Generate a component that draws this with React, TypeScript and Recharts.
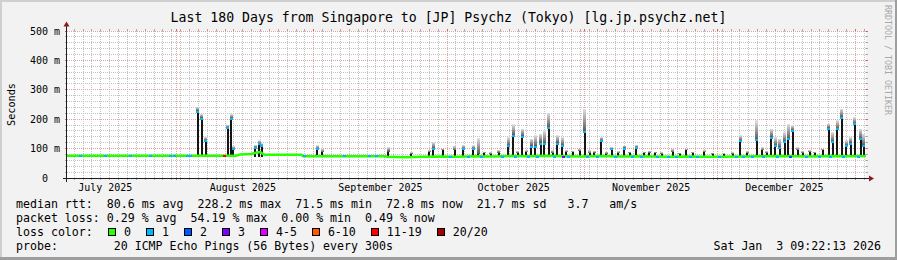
import React from 'react';
import { ComposedChart, Bar, Line, Scatter, XAxis, YAxis, ReferenceLine } from 'recharts';

const FONT = '"DejaVu Sans Mono", monospace';

// x values are days since the start of the graph (Jul 7 2025 09:22)
const monthStartDays = [24.61, 55.61, 85.61, 116.61, 146.61, 177.61];
const monthLabelDays = [8.61, 39.61, 70.61, 100.61, 131.61, 161.61];
const monthLabels = ['July 2025', 'August 2025', 'September 2025', 'October 2025', 'November 2025', 'December 2025'];
const firstMinorDay = 1.61; // Jul 9 00:00, minor grid every 2 days

const yTicks = [0, 100, 200, 300, 400, 500];
const yTickLabels = ['0  ', '100 m', '200 m', '300 m', '400 m', '500 m'];

// median rtt (ms)
const medianDays = [0, 38, 39, 41.5, 42.5, 43.5, 44.5, 52.8, 53.2, 62, 71.5, 72.2, 76, 80, 84, 88, 92, 96, 100, 104, 108, 112, 116, 120, 124, 128, 132, 136, 140, 144, 148, 152, 156, 160, 164, 168, 172, 176, 180];
const medianMs = [76, 76, 80, 82, 86, 88, 79, 79, 74, 74, 74, 72, 71, 72, 73, 72, 74, 73, 75, 74, 76, 74, 73, 75, 73, 74, 73, 72, 73, 72, 72, 73, 74, 75, 74, 73, 75, 74, 75];

// smoke spikes: dense (dark) top and light smoke top, ms
const spikeDays = [29.4, 30.4, 31.3, 36.2, 37.0, 37.5, 42.4, 43.3, 43.9, 56.4,
  57.5, 72.4, 77.6, 81.6, 82.5, 84.6, 87.4, 89.3, 91.5, 92.6,
  94.0, 95.5, 97.3, 99.4, 100.5, 101.5, 102.6, 103.5, 104.6, 105.5,
  106.7, 107.5, 108.5, 109.4, 110.4, 111.6, 112.5, 113.9, 115.5, 116.6,
  117.8, 118.8, 120.4, 121.5, 122.7, 124.2, 125.5, 126.8, 128.2, 130.0,
  131.2, 132.5, 134.0, 136.5, 138.0, 139.5, 141.0, 143.6, 145.5, 148.0,
  150.0, 151.7, 153.2, 155.4, 156.6, 157.6, 158.6, 159.5, 160.6, 161.7,
  162.5, 163.5, 164.6, 165.8, 167.3, 168.5, 170.3, 171.6, 172.5, 173.5,
  174.5, 175.5, 176.6, 177.5, 178.8, 179.5];
const spikeDense = [228, 205, 128, 173, 204, 100, 105, 117, 111, 100,
  88, 90, 82, 88, 102, 94, 94, 100, 100, 83,
  84, 82, 86, 111, 147, 85, 143, 88, 109, 109,
  120, 118, 173, 85, 120, 111, 88, 88, 92, 159,
  84, 86, 128, 82, 100, 84, 103, 85, 105, 84,
  86, 85, 82, 88, 82, 94, 84, 88, 82, 80,
  82, 128, 84, 131, 94, 85, 139, 111, 105, 124,
  134, 162, 94, 85, 88, 84, 94, 170, 124, 168,
  207, 111, 120, 185, 134, 111];
const spikeLight = [242, 217, 139, 180, 217, 108, 112, 128, 118, 111,
  100, 105, 88, 95, 122, 100, 110, 112, 111, 136,
  90, 88, 95, 139, 182, 92, 168, 95, 134, 145,
  151, 162, 222, 95, 145, 139, 95, 92, 100, 236,
  95, 92, 139, 90, 105, 92, 110, 90, 112, 90,
  92, 90, 88, 100, 86, 100, 90, 95, 86, 85,
  88, 145, 92, 196, 105, 92, 168, 139, 134, 156,
  185, 179, 105, 92, 95, 90, 100, 185, 156, 196,
  236, 128, 139, 207, 168, 150];
const SPIKE_FLOOR = 72;

// median samples drawn in a loss colour
const lossDays = [3.0, 8.6, 14.2, 18.7, 23.4, 24.3, 27.2, 27.9, 35.4, 53.6,
  62.6, 68.2, 69.8, 86.5, 90.5, 93.3, 98.2, 101.0, 104.0, 106.0,
  109.8, 111.8, 113.0, 117.2, 119.5, 123.5, 127.5, 129.5, 133.0, 135.5,
  137.2, 140.5, 142.0, 147.0, 150.8, 152.5, 154.5, 157.0, 160.0, 163.0,
  166.5, 169.5, 172.0, 175.0, 178.2];
const lossMs = [76, 76, 76, 76, 76, 76, 76, 76, 76, 74,
  74, 74, 74, 71, 71, 71, 71, 71, 71, 71,
  71, 71, 71, 71, 71, 71, 71, 71, 71, 71,
  71, 71, 71, 71, 71, 71, 71, 71, 71, 71,
  71, 71, 71, 71, 71];
const lossLevel = [1, 1, 1, 1, 1, 1, 1, 1, 6, 1,
  1, 1, 1, 1, 1, 1, 1, 1, 1, 1,
  1, 3, 1, 1, 1, 1, 1, 1, 1, 1,
  1, 1, 1, 1, 1, 1, 1, 1, 1, 2,
  1, 1, 1, 1, 1];

const lossLabels = ['0', '1', '2', '3', '4-5', '6-10', '11-19', '20/20'];
const lossColors = ['#26ff00', '#00b8ff', '#0059ff', '#7e00ff', '#dd00ff', '#ff5500', '#ff0000', '#a10000'];

const spikeRows = spikeDays.map((day, i) => ({
  day,
  floor: SPIKE_FLOOR,
  dense: spikeDense[i] - SPIKE_FLOOR,
  light: spikeLight[i] - spikeDense[i],
}));
const medianRows = medianDays.map((day, i) => ({ day, ms: medianMs[i] }));
const lossRows = lossDays.map((day, i) => ({ day, ms: lossMs[i], level: lossLevel[i] }));
const spikeTopRows = spikeDays
  .map((day, i) => ({ day, ms: spikeDense[i] - 3 }))
  .filter((r) => r.ms >= 97);

const minorDays: number[] = [];
for (let d = firstMinorDay; d < 180; d += 2) minorDays.push(d);
const minorMs: number[] = [];
for (let v = 20; v < 500; v += 20) if (v % 100) minorMs.push(v);
const majorMs = [100, 200, 300, 400, 500];

const MINOR = '#c4c4c4';
const MAJOR = '#e4a2a2';
const MINOR_TICK = '#a8a8a8';
const MAJOR_TICK = '#c46a6a';
const BEHIND = -200;

const monthTick = (p: any) => (
  <text x={p.x} y={p.y + 13} textAnchor="middle" fontSize={10} fontFamily={FONT} fill="#000">
    {monthLabels[monthLabelDays.indexOf(p.payload.value)]}
  </text>
);

const msTick = (p: any) => (
  <text x={p.x} y={p.y} dy={3.5} textAnchor="end" fontSize={10} fontFamily={FONT} fill="#000" style={{ whiteSpace: 'pre' }}>
    {yTickLabels[yTicks.indexOf(p.payload.value)]}
  </text>
);

// fixed-width column centred on the bar slot the library computed
const column = (w: number) => (p: any) => {
  if (!p.height || p.height <= 0) return <g />;
  return <rect x={p.x + p.width / 2 - w / 2} y={p.y} width={w} height={p.height} fill={p.fill} shapeRendering="crispEdges" />;
};

const lossMark = (color: string) => (p: any) => (
  <rect x={p.cx - 1.5} y={p.cy - 1} width={3} height={2} fill={color} shapeRendering="crispEdges" />
);

const legendRow: React.CSSProperties = {
  position: 'absolute', left: 16, fontSize: 11.6, lineHeight: '14px', whiteSpace: 'pre', color: '#000',
};

export default function App() {
  return (
    <div style={{ position: 'absolute', left: 0, top: 0, width: 897, height: 260, background: '#f2f2f2', fontFamily: FONT, overflow: 'hidden' }}>
      <svg width={0} height={0} style={{ position: 'absolute' }}>
        <defs>
          <linearGradient id="smokeGrad" x1="0" y1="0" x2="0" y2="1">
            <stop offset="0" stopColor="#e2e2e2" />
            <stop offset="1" stopColor="#5a5a5a" />
          </linearGradient>
        </defs>
      </svg>
      <div style={{ position: 'absolute', left: 0, top: 0, width: 897, height: 2, background: '#cfcfcf' }} />
      <div style={{ position: 'absolute', left: 0, top: 0, width: 2, height: 260, background: '#cfcfcf' }} />
      <div style={{ position: 'absolute', left: 0, top: 257, width: 897, height: 3, background: '#9e9e9e' }} />
      <div style={{ position: 'absolute', left: 895, top: 0, width: 2, height: 260, background: '#9e9e9e' }} />
      <div style={{ position: 'absolute', left: 67, top: 31, width: 799, height: 147, background: '#ffffff' }} />

      <div style={{ position: 'absolute', left: 0, top: 0 }}>
        <ComposedChart width={897} height={260} data={spikeRows} margin={{ top: 31, right: 31, bottom: 62, left: 0 }}>
          <XAxis type="number" dataKey="day" domain={[0, 180]} allowDataOverflow ticks={monthLabelDays} interval={0}
            tick={monthTick} axisLine={false} tickLine={false} tickSize={0} tickMargin={0} height={20} />
          <YAxis type="number" domain={[0, 500]} allowDataOverflow ticks={yTicks} interval={0}
            tick={msTick} axisLine={false} tickLine={false} tickSize={0} tickMargin={7} width={67} />

          {minorMs.map((v) => (
            <ReferenceLine key={'hm' + v} y={v} stroke={MINOR} strokeDasharray="1 1" shapeRendering="crispEdges" zIndex={BEHIND} />
          ))}
          {minorDays.map((d) => (
            <ReferenceLine key={'vm' + d} x={d} stroke={MINOR} strokeDasharray="1 1" shapeRendering="crispEdges" zIndex={BEHIND} />
          ))}
          {majorMs.map((v) => (
            <ReferenceLine key={'hM' + v} y={v} stroke={MAJOR} strokeDasharray="1 1" shapeRendering="crispEdges" zIndex={BEHIND} />
          ))}
          {monthStartDays.map((d) => (
            <ReferenceLine key={'vM' + d} x={d} stroke={MAJOR} strokeDasharray="1 1" shapeRendering="crispEdges" zIndex={BEHIND} />
          ))}

          {/* little ticks outside the canvas */}
          {minorMs.concat(majorMs).map((v) => [
            <ReferenceLine key={'tl' + v} segment={[{ x: -0.45, y: v }, { x: 0, y: v }]} ifOverflow="visible"
              stroke={v % 100 ? MINOR_TICK : MAJOR_TICK} shapeRendering="crispEdges" zIndex={BEHIND} />,
            <ReferenceLine key={'tr' + v} segment={[{ x: 180, y: v }, { x: 180.45, y: v }]} ifOverflow="visible"
              stroke={v % 100 ? MINOR_TICK : MAJOR_TICK} shapeRendering="crispEdges" zIndex={BEHIND} />,
          ])}
          {minorDays.concat(monthStartDays).map((d, i) => [
            <ReferenceLine key={'tb' + i} segment={[{ x: d, y: -6.8 }, { x: d, y: 0 }]} ifOverflow="visible"
              stroke={i < minorDays.length ? MINOR_TICK : MAJOR_TICK} shapeRendering="crispEdges" zIndex={BEHIND} />,
            <ReferenceLine key={'tt' + i} segment={[{ x: d, y: 500 }, { x: d, y: 506.8 }]} ifOverflow="visible"
              stroke={i < minorDays.length ? MINOR_TICK : MAJOR_TICK} shapeRendering="crispEdges" zIndex={BEHIND} />,
          ])}

          <Bar dataKey="floor" stackId="smoke" fill="transparent" shape={column(2)} isAnimationActive={false} />
          <Bar dataKey="dense" stackId="smoke" fill="#151515" shape={column(2)} isAnimationActive={false} />
          <Bar dataKey="light" stackId="smoke" fill="url(#smokeGrad)" shape={column(3)} isAnimationActive={false} />

          <Line data={medianRows} dataKey="ms" type="linear" stroke="#26ff00" strokeWidth={2.5} dot={false}
            activeDot={false} isAnimationActive={false} />

          <Scatter data={spikeTopRows} dataKey="ms" shape={lossMark(lossColors[1])} isAnimationActive={false} />
          {[1, 2, 3, 6].map((lv) => (
            <Scatter key={'loss' + lv} data={lossRows.filter((r) => r.level === lv)} dataKey="ms"
              shape={lossMark(lossColors[lv])} isAnimationActive={false} />
          ))}
        </ComposedChart>
      </div>

      <svg width={897} height={260} style={{ position: 'absolute', left: 0, top: 0, pointerEvents: 'none' }}>
        <line x1={63} y1={178.5} x2={870} y2={178.5} stroke="#1e1e1e" strokeWidth={1} />
        <line x1={66.5} y1={182} x2={66.5} y2={26} stroke="#1e1e1e" strokeWidth={1} />
        <polygon points="869,175.5 874,178.5 869,181.5" fill="#8b1a1a" />
        <polygon points="63.5,26.5 66.5,21.5 69.5,26.5" fill="#8b1a1a" />
        <text x={11} y={104.5} transform="rotate(-90 11 104.5)" textAnchor="middle" dominantBaseline="central"
          fontSize={10.2} fontFamily={FONT} fill="#000">Seconds</text>
        <text transform="translate(885 5) rotate(90)" fontSize={8.3} fontFamily={FONT} fill="#a8a8a8">RRDTOOL / TOBI OETIKER</text>
      </svg>

      <div style={{ position: 'absolute', left: 0, top: 10, width: 897, textAlign: 'center', fontSize: 13.2, lineHeight: '16px', whiteSpace: 'pre', color: '#000' }}>
        Last 180 Days from Singapore to [JP] Psychz (Tokyo) [lg.jp.psychz.net]
      </div>

      <div style={{ ...legendRow, top: 197 }}>median rtt:  80.6 ms avg  228.2 ms max  71.5 ms min  72.8 ms now  21.7 ms sd   3.7   am/s</div>
      <div style={{ ...legendRow, top: 211 }}>packet loss: 0.29 % avg  54.19 % max  0.00 % min  0.49 % now</div>
      <div style={{ ...legendRow, top: 225 }}>loss color:</div>
      <div style={{ position: 'absolute', left: 108, top: 225, height: 14, display: 'flex', alignItems: 'center', fontSize: 11.6, whiteSpace: 'pre' }}>
        {lossLabels.map((lab, i) => (
          <React.Fragment key={lab}>
            <span style={{ display: 'inline-block', boxSizing: 'border-box', width: 8, height: 8, border: '1px solid #000', background: lossColors[i], marginRight: 8 }} />
            <span style={{ marginRight: 15, lineHeight: '14px' }}>{lab}</span>
          </React.Fragment>
        ))}
      </div>
      <div style={{ ...legendRow, top: 239 }}>probe:        20 ICMP Echo Pings (56 Bytes) every 300s</div>
      <div style={{ ...legendRow, left: undefined, right: 16, top: 239 }}>Sat Jan  3 09:22:13 2026</div>
    </div>
  );
}
